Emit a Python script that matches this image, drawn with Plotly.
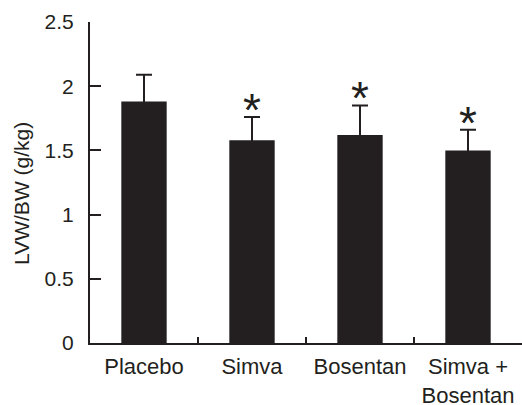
import plotly.graph_objects as go

categories = ["Placebo", "Simva", "Bosentan", "Simva +<br>Bosentan"]
means = [1.88, 1.58, 1.62, 1.50]
errors = [0.21, 0.18, 0.23, 0.16]
significant = [False, True, True, True]
y_ticks = [0, 0.5, 1, 1.5, 2, 2.5]
y_tick_labels = ["0", "0.5", "1", "1.5", "2", "2.5"]
y_title = "LVW/BW (g/kg)"

INK = "#231f20"
FONT = "Liberation Sans, Arial, Helvetica, sans-serif"

xs = list(range(len(categories)))

fig = go.Figure()
fig.add_trace(go.Bar(
    x=xs, y=means, width=0.42,
    marker=dict(color=INK, line=dict(width=0)),
    error_y=dict(type="data", array=errors, symmetric=True,
                 color=INK, thickness=2, width=8),
    showlegend=False, hoverinfo="skip",
))
# invisible trace to carry category labels on overlay axis
fig.add_trace(go.Scatter(x=xs, y=[0]*len(xs), xaxis="x2", mode="markers",
                         marker=dict(opacity=0), showlegend=False, hoverinfo="skip"))

for i, sig in enumerate(significant):
    if sig:
        fig.add_annotation(x=i, y=means[i] + errors[i], text="*", showarrow=False,
                           yanchor="bottom", yshift=-21,
                           font=dict(family=FONT, size=46, color=INK))

fig.add_annotation(xref="paper", yref="paper", x=-0.157, y=0.465,
                   text=y_title, textangle=-90, showarrow=False,
                   xanchor="center", yanchor="middle",
                   font=dict(family=FONT, size=21, color=INK))

fig.update_layout(
    width=522, height=405,
    margin=dict(l=90, r=0, t=22, b=62, autoexpand=False),
    paper_bgcolor="white", plot_bgcolor="white",
    font=dict(family=FONT, color=INK),
    hovermode=False,
    xaxis=dict(range=[-0.5, 3.5], tickvals=[0.5, 1.5, 2.5], ticktext=["", "", ""],
               ticks="inside", ticklen=6, tickwidth=2, tickcolor=INK,
               showline=True, linewidth=2, linecolor=INK, automargin=False,
               showgrid=False, zeroline=False, fixedrange=True),
    xaxis2=dict(overlaying="x", matches="x", side="bottom", range=[-0.5, 3.5],
                tickvals=xs, ticktext=categories, ticks="", showline=False,
                showgrid=False, zeroline=False, automargin=False,
                ticklabelstandoff=8,
                tickfont=dict(family=FONT, size=22, color=INK)),
    yaxis=dict(range=[0, 2.5], tickvals=y_ticks, ticktext=y_tick_labels,
               ticks="inside", ticklen=11, tickwidth=2, tickcolor=INK,
               showline=True, linewidth=2, linecolor=INK, automargin=False,
               showgrid=False, zeroline=False, ticklabelstandoff=10,
               fixedrange=True,
               tickfont=dict(family=FONT, size=21, color=INK)),
)

fig.write_html("out.html", config={"displayModeBar": False, "staticPlot": True},
               post_script="document.body.style.margin='0';document.body.style.overflow='hidden';")
